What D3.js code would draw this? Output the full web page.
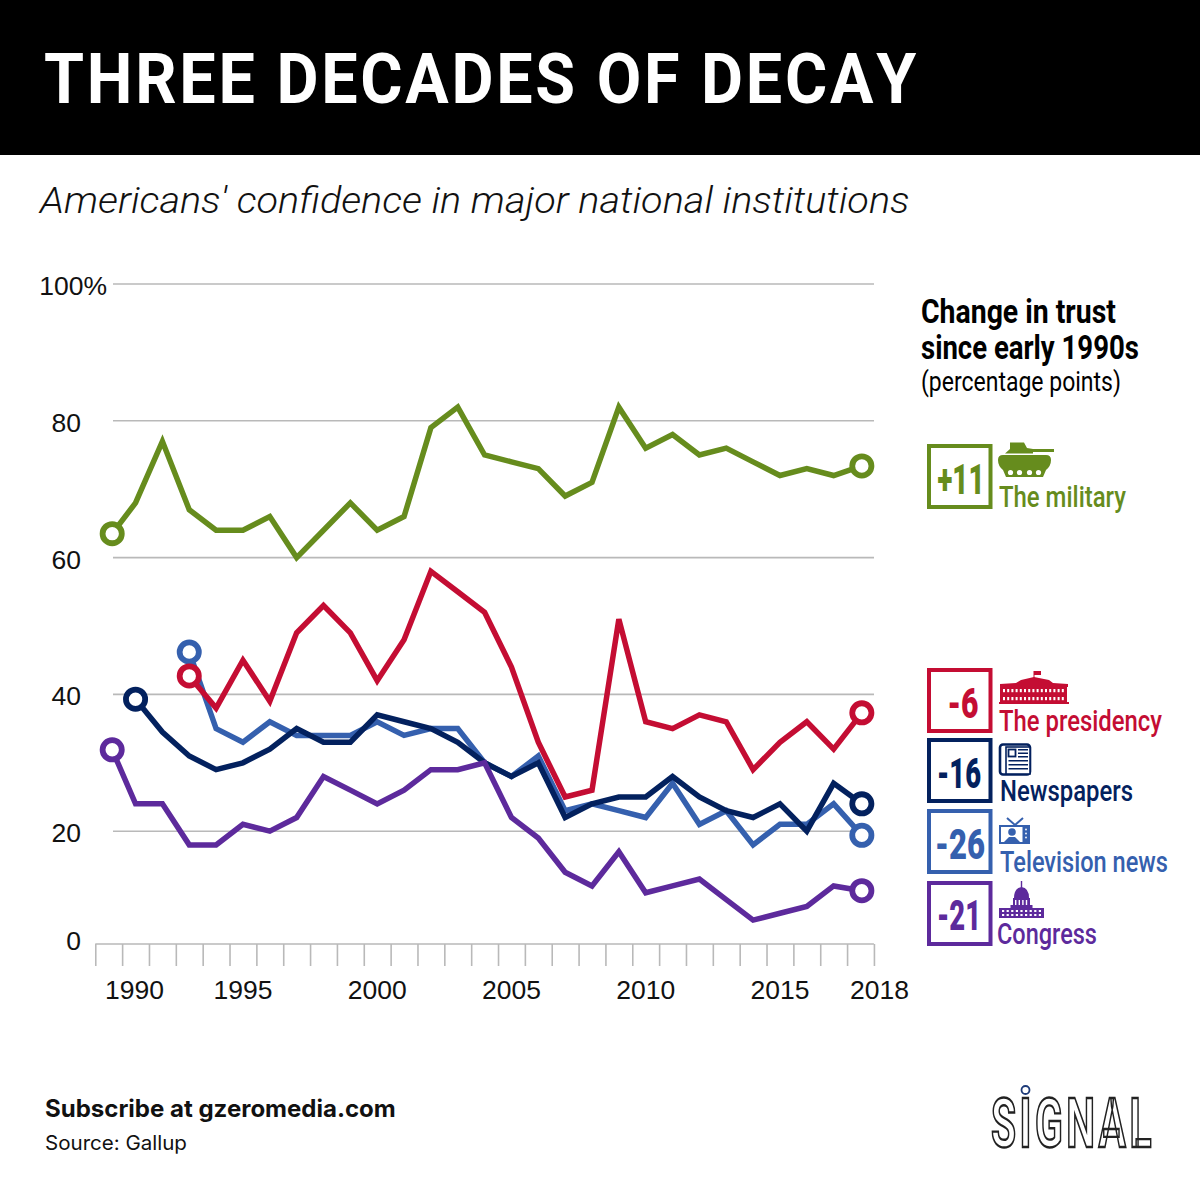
<!DOCTYPE html>
<html><head><meta charset="utf-8">
<script src="https://cdn.jsdelivr.net/npm/d3@7"></script>
<style>html,body{margin:0;padding:0;background:#fff}svg{display:block}</style>
</head><body><div id="c"></div>
<script>
const titleText = "THREE DECADES OF DECAY";
const subtitleText = "Americans' confidence in major national institutions";
const years = [1990.13,1991,1992,1993,1994,1995,1996,1997,1998,1999,2000,2001,2002,2003,2004,2005,2006,2007,2008,2009,2010,2011,2012,2013,2014,2015,2016,2017,2018.05];
const military   = [63.5,68,77,67,64,64,66,60,64,68,64,66,79,82,75,74,73,69,71,82,76,78,75,76,74,72,73,72,73.4];
const presidency = [null,null,null,42.7,38,45,39,49,53,49,42,48,58,55,52,44,33,25,26,51,36,35,37,36,29,33,36,32,37.3];
const television = [null,null,null,46.2,35,33,36,34,34,34,36,34,35,35,30,28,31,23,24,23,22,27,21,23,18,21,21,24,19.4];
const newspapers = [null,39.3,34.5,31,29,30,32,35,33,33,37,36,35,33,30,28,30,22,24,25,25,28,25,23,22,24,20,27,24];
const congress   = [31.9,24,24,18,18,21,20,22,28,26,24,26,29,29,30,22,19,14,12,17,11,12,13,10,7,8,9,12,11.3];
const yTicks = [100,80,60,40,20];
const xLabelYears = [1991,1995,2000,2005,2010,2015,2018];
const xLabelTexts = ["1990","1995","2000","2005","2010","2015","2018"];
const legendNames = ["The military","The presidency","Newspapers","Television news","Congress"];
const legendChanges = ["+11","-6","-16","-26","-21"];
const COL = {mil:"#668c1d",pre:"#c40d33",tv:"#3560ae",news:"#03215e",con:"#5d2a9c"};

const svg = d3.select("#c").append("svg").attr("width",1200).attr("height",1200).attr("viewBox","0 0 1200 1200");
const x = d3.scaleLinear().domain([1990,2018]).range([108.7,860.5]);
const y = d3.scaleLinear().domain([0,100]).range([968,284]);
const SANS = "'Liberation Sans',Arial,sans-serif";

function label(t,px,py,o){
  const s = svg.append("text").text(t)
    .attr("font-family",o.font||"Roboto").attr("font-size",o.size)
    .attr("font-weight",o.weight||400).attr("fill",o.fill||"#000")
    .attr("text-anchor",o.anchor||"start");
  if(o.style) s.attr("font-style",o.style);
  if(o.spacing) s.attr("letter-spacing",o.spacing).style("font-kerning","none");
  if(o.len){
    const sx = o.len / s.node().getComputedTextLength();
    s.attr("transform",`translate(${px},${py}) scale(${sx},1)`);
  } else {
    s.attr("x",px).attr("y",py);
  }
  return s;
}

// Header
svg.append("rect").attr("width",1200).attr("height",155).attr("fill","#000");
label(titleText,44,103,{size:71,weight:700,fill:"#fff",len:875,spacing:3});
label(subtitleText,40,213,{size:37,weight:300,style:"italic",len:870,fill:"#111"});

// Grid
svg.append("g").selectAll("line").data(yTicks).join("line")
  .attr("x1",113).attr("x2",874).attr("y1",d=>y(d)).attr("y2",d=>y(d))
  .attr("stroke","#b9b9b9").attr("stroke-width",1.6);
svg.selectAll("text.yl").data(yTicks).join("text").attr("class","yl")
  .attr("x",d=>d===100?107:81).attr("y",d=>y(d)+11).attr("text-anchor","end")
  .attr("font-family",SANS).attr("font-size",26.5).attr("fill","#111")
  .text(d=>d===100?"100%":d);
label("0",81,950,{font:SANS,size:26.5,anchor:"end",fill:"#111"});

// X axis
const edges = d3.range(1989.5,2019,1);
const axis = d3.axisBottom(x).tickValues(edges).tickSize(22).tickFormat("");
const ag = svg.append("g").attr("transform","translate(0,944)").call(axis);
ag.select(".domain").attr("d",`M${x(1989.5)},0H${x(2018.5)}`).attr("stroke","#b9b9b9").attr("stroke-width",1.6);
ag.selectAll(".tick line").attr("stroke","#b9b9b9").attr("stroke-width",1.6);
svg.selectAll("text.xl").data(xLabelYears).join("text").attr("class","xl")
  .attr("x",d=>x(d)+(d===2018?19:0)-(d===1991?1:0)).attr("y",999).attr("text-anchor","middle")
  .attr("font-family",SANS).attr("font-size",26.5).attr("fill","#111")
  .text((d,i)=>xLabelTexts[i]);

// Lines
const line = d3.line().defined(d=>d[1]!=null).x(d=>x(d[0])).y(d=>y(d[1]));
const series = [[military,COL.mil],[television,COL.tv],[presidency,COL.pre],[newspapers,COL.news],[congress,COL.con]];
series.forEach(([vals,c])=>{
  const pts = vals.map((v,i)=>[years[i],v]);
  svg.append("path").attr("d",line(pts)).attr("fill","none").attr("stroke",c)
    .attr("stroke-width",5.5).attr("stroke-linejoin","miter");
});
series.forEach(([vals,c])=>{
  const pts = vals.map((v,i)=>[years[i],v]).filter(d=>d[1]!=null);
  svg.selectAll(null).data([pts[0],pts[pts.length-1]]).join("circle")
    .attr("cx",d=>x(d[0])).attr("cy",d=>y(d[1])).attr("r",9.6)
    .attr("fill","#fff").attr("stroke",c).attr("stroke-width",5.8);
});

// Legend header
label("Change in trust",921,323,{size:33,weight:700,len:195});
label("since early 1990s",921,359,{size:33,weight:700,len:218});
label("(percentage points)",921,391,{size:27,weight:400,len:200});

// Legend rows
const legendColors = [COL.mil,COL.pre,COL.news,COL.tv,COL.con];
const boxTops = [446,670,740,811,883];
const nameX = [999,999,1000,1000,997], nameY = [507,731,801,872,944];
const nameLen = [127,163,133,168,100];
const chgX = [961,963,959,960,959], chgY=[494,718,788,859,930], chgLen=[47,31,44,50,44];
legendNames.forEach((n,i)=>{
  svg.append("rect").attr("x",929).attr("y",boxTops[i]).attr("width",61.5).attr("height",61)
    .attr("fill","none").attr("stroke",legendColors[i]).attr("stroke-width",4);
  label(legendChanges[i],chgX[i],chgY[i],{size:42,weight:900,fill:legendColors[i],anchor:"middle",len:chgLen[i]});
  label(n,nameX[i],nameY[i],{size:30,weight:500,fill:legendColors[i],len:nameLen[i]});
});

// Icons
const tank = svg.append("g").attr("fill",COL.mil);
tank.append("path").attr("d","M1005,453.5L1010,449V442.5H1024L1027,448L1033,449V453.5Z");
tank.append("rect").attr("x",1030).attr("y",449).attr("width",24).attr("height",3);
tank.append("path").attr("d","M998,460Q998,455 1003,455H1046Q1051,455 1051,460Q1051,466 1046,470L1043,477H1006L1003,470Q998,466 998,460Z");
[1010.5,1019.5,1029.5,1038.5].forEach(cx=>svg.append("circle").attr("cx",cx).attr("cy",472.5).attr("r",2.6).attr("fill","#fff"));

const wh = svg.append("g").attr("fill",COL.pre);
wh.append("rect").attr("x",1034).attr("y",671).attr("width",7).attr("height",4);
wh.append("rect").attr("x",1033.5).attr("y",671).attr("width",1).attr("height",9);
wh.append("path").attr("d","M1000,684L1016,683L1021,680L1034,677L1049,680L1053,683L1068,684V687H1067V702H1069V704H999V702H1000V687Z");
for(let r=0;r<2;r++) for(let i=0;i<15;i++){
  svg.append("rect").attr("x",1003+i*4.2).attr("y",689+r*8).attr("width",2).attr("height",3.2).attr("fill","#fff");
}

const np = svg.append("g");
np.append("rect").attr("x",1000).attr("y",744.5).attr("width",30).attr("height",30).attr("rx",3)
  .attr("fill","#fff").attr("stroke",COL.news).attr("stroke-width",2.6);
np.append("rect").attr("x",1006).attr("y",747).attr("width",24).attr("height",27).attr("fill","#fff").attr("stroke",COL.news).attr("stroke-width",1.6);
np.append("rect").attr("x",1008.5).attr("y",749.5).attr("width",7).attr("height",7).attr("fill","#fff").attr("stroke",COL.news).attr("stroke-width",1.8);
[749,752.5,756,760,764,768].forEach((ly,i)=>np.append("rect").attr("x",i<3?1018:1008.5).attr("y",ly).attr("width",i<3?10:19.5).attr("height",1.5).attr("fill",COL.news));

const tv = svg.append("g");
tv.append("rect").attr("x",1000).attr("y",826).attr("width",29).attr("height",17).attr("fill","#fff").attr("stroke",COL.tv).attr("stroke-width",2);
tv.append("path").attr("d","M1007,818L1015,825L1023,818").attr("fill","none").attr("stroke",COL.tv).attr("stroke-width",2);
tv.append("rect").attr("x",1022.5).attr("y",826).attr("width",6.5).attr("height",17).attr("fill",COL.tv);
[829.5,833.5,837.5].forEach(cy=>tv.append("circle").attr("cx",1026).attr("cy",cy).attr("r",.9).attr("fill","#fff"));
tv.append("circle").attr("cx",1012).attr("cy",832).attr("r",3.8).attr("fill",COL.tv);
tv.append("path").attr("d","M1003,843L1009,837H1015L1021,843Z").attr("fill",COL.tv);

const cap = svg.append("g").attr("fill",COL.con);
cap.append("rect").attr("x",1020.8).attr("y",881).attr("width",1.4).attr("height",8);
cap.append("path").attr("d","M1014,898Q1014,888 1021.5,887Q1029,888 1029,898Z");
cap.append("rect").attr("x",1013).attr("y",898).attr("width",17).attr("height",9);
cap.append("rect").attr("x",1010.5).attr("y",905).attr("width",22).attr("height",3);
cap.append("path").attr("d","M999,908H1044V918H999Z");
for(let i=0;i<4;i++) cap.append("rect").attr("x",1015+i*3.6).attr("y",900).attr("width",1.4).attr("height",5).attr("fill","#fff");
for(let r=0;r<2;r++) for(let i=0;i<9;i++) cap.append("rect").attr("x",1002+i*4.6).attr("y",910+r*4).attr("width",2.2).attr("height",2).attr("fill","#fff");

// Footer
label("Subscribe at gzeromedia.com",45,1117,{font:"Inter",size:24,weight:700,len:351,fill:"#111"});
label("Source: Gallup",45,1150,{font:"Inter",size:20,weight:400,len:142,fill:"#111"});

// Logo
const logo = label("SIGNAL",991,1147,{size:69,weight:700,len:164,fill:"#fff",spacing:6});
logo.attr("stroke","#222").attr("stroke-width",2.4);
svg.append("circle").attr("cx",1025.5).attr("cy",1090).attr("r",4).attr("fill","#fff").attr("stroke","#1d3a78").attr("stroke-width",1.8);
</script></body></html>
